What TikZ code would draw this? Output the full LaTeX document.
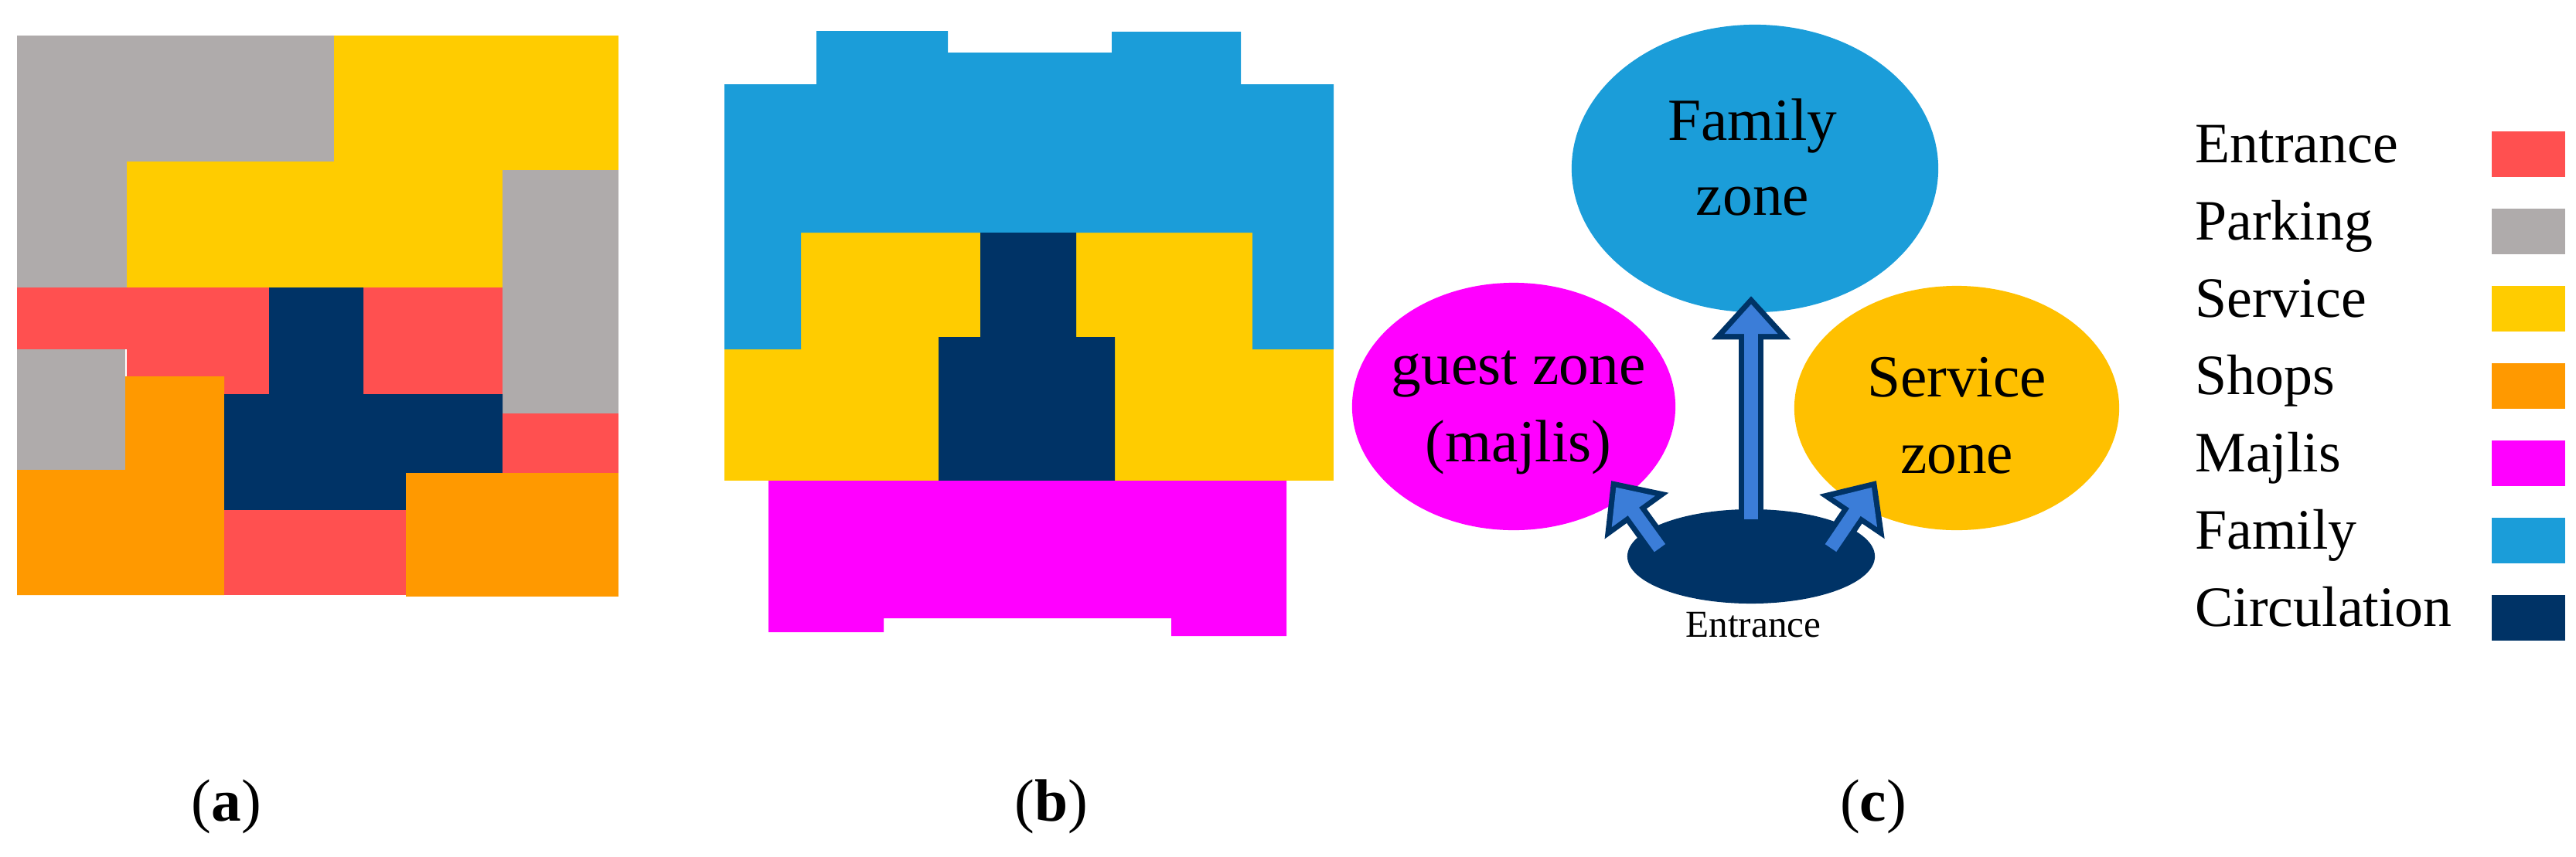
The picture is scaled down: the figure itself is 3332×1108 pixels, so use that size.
\documentclass[tikz,border=0pt]{standalone}
\usepackage{fontspec}
\setmainfont{Liberation Serif}
\usetikzlibrary{arrows.meta,shapes.geometric}
\definecolor{cEnt}{HTML}{FF5050}
\definecolor{cPark}{HTML}{AFABAB}
\definecolor{cServ}{HTML}{FFCC00}
\definecolor{cShop}{HTML}{FF9900}
\definecolor{cMaj}{HTML}{FF00FF}
\definecolor{cFam}{HTML}{1B9DD9}
\definecolor{cCirc}{HTML}{003366}
\definecolor{cSz}{HTML}{FFC000}
\definecolor{cArr}{HTML}{3B7DD8}
\tikzset{
  lab/.style={font=\fontsize{22}{26}\selectfont, anchor=base},
  leg/.style={font=\fontsize{21}{25}\selectfont, anchor=base west},
  zone/.style={ellipse, inner sep=0pt},
  arrout/.style={line width=9pt, draw=cCirc, -{Triangle[length=16pt,width=28pt]}},
  arrin/.style={line width=5pt, draw=cArr, -{Triangle[length=11pt,width=19pt]}, shorten >=3pt, shorten <=1pt},
}
\begin{document}
\begin{tikzpicture}[x=0.01cm,y=-0.01cm]
\useasboundingbox (0,0) rectangle (3332,1108);
% ---------- panel (a)
\fill[cPark] (22,46) rectangle (432,209);
\fill[cPark] (22,46) rectangle (164,372);
\fill[cServ] (432,46) rectangle (800,220);
\fill[cServ] (164,209) rectangle (650,372);
\fill[cPark] (650,220) rectangle (800,535);
\fill[cEnt] (22,372) rectangle (348,452);
\fill[cEnt] (164,452) rectangle (348,510);
\fill[cEnt] (470,372) rectangle (650,510);
\fill[cPark] (22,452) rectangle (162,608);
\fill[cShop] (22,608) -- (162,608) -- (162,487) -- (290,487) -- (290,770) -- (22,770) -- cycle;
\fill[cCirc] (348,372) -- (470,372) -- (470,510) -- (650,510) -- (650,612) -- (525,612) -- (525,660) -- (290,660) -- (290,510) -- (348,510) -- cycle;
\fill[cEnt] (290,660) rectangle (525,770);
\fill[cShop] (525,612) rectangle (800,772);
\fill[cEnt] (650,535) rectangle (800,612);
% ---------- panel (b)
\fill[cServ] (937,301) rectangle (1725,622);
\fill[cFam] (937,109) -- (1056,109) -- (1056,40) -- (1226,40) -- (1226,68) -- (1438,68) -- (1438,41) -- (1605,41) -- (1605,109) -- (1725,109) -- (1725,452) -- (1620,452) -- (1620,301) -- (1036,301) -- (1036,452) -- (937,452) -- cycle;
\fill[cCirc] (1268,301) -- (1392,301) -- (1392,436) -- (1442,436) -- (1442,622) -- (1214,622) -- (1214,436) -- (1268,436) -- cycle;
\fill[cMaj] (994,622) -- (1664,622) -- (1664,823) -- (1515,823) -- (1515,800) -- (1143,800) -- (1143,818) -- (994,818) -- cycle;
% ---------- panel (c)
\node[zone, fill=cFam, minimum width=4.74cm, minimum height=3.72cm] (fam) at (2270,218) {};
\node[zone, fill=cMaj, minimum width=4.18cm, minimum height=3.2cm] (gst) at (1958,526) {};
\node[zone, fill=cSz, minimum width=4.2cm, minimum height=3.16cm] (srv) at (2531,528) {};
\node[zone, fill=cCirc, minimum width=3.2cm, minimum height=1.22cm] (ent) at (2265,720) {};
\node[lab] (famA) at (2267,181) {Family};
\node[lab] (famB) at (2267,278) {zone};
\node[lab] (gstA) at (1964,497) {guest zone};
\node[lab] (gstB) at (1964,597) {(majlis)};
\node[lab] (srvA) at (2531,513) {Service};
\node[lab] (srvB) at (2531,612) {zone};
\node[font=\fontsize{14}{16}\selectfont, anchor=base] (entl) at (2268,824) {Entrance};
\coordinate (s1) at (2265,675);
\coordinate (t1) at (2265,383);
\coordinate (s2) at (2149,712);
\coordinate (t2) at (2084,622);
\coordinate (s3) at (2366,712);
\coordinate (t3) at (2427,622);
\foreach \s/\t in {s1/t1,s2/t2,s3/t3}{
  \draw[arrout] (\s) -- (\t);
  \draw[arrin] (\s) -- (\t);
}
% ---------- legend
\foreach \n/\t/\c [count=\i from 0] in {e/Entrance/cEnt, p/Parking/cPark, s/Service/cServ, h/Shops/cShop, m/Majlis/cMaj, f/Family/cFam, c/Circulation/cCirc}{
  \node[leg] (l\n) at (2827,{210+100*\i}) {\t};
  \fill[\c] (3223,{170+100*\i}) rectangle (3318,{229+100*\i});
}
% ---------- captions
\node[lab] (ca) at (293,1062) {(\textbf{a})};
\node[lab] (cb) at (1360,1062) {(\textbf{b})};
\node[lab] (cc) at (2423,1062) {(\textbf{c})};
\end{tikzpicture}
\end{document}
